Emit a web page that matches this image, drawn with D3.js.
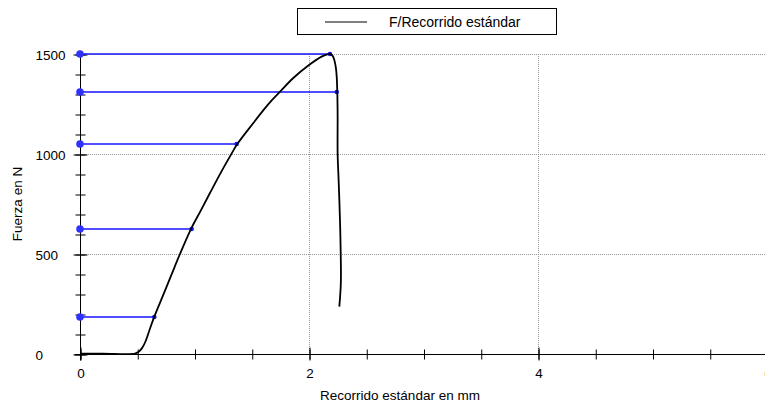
<!DOCTYPE html>
<html>
<head>
<meta charset="utf-8">
<script src="https://cdn.jsdelivr.net/npm/d3@7"></script>
<style>
  html, body { margin: 0; padding: 0; background: #fff; }
  svg { display: block; font-family: "Liberation Sans", Arial, sans-serif; }
</style>
</head>
<body>
<svg id="chart" width="765" height="407"></svg>
<script>
// ---- data ----
const xTickValues = [0, 2, 4, 6];
const xMinorTicks = [0, 0.5, 1, 1.5, 2, 2.5, 3, 3.5, 4, 4.5, 5, 5.5, 6];
const yTickValues = [0, 500, 1000, 1500];
const yMinorTicks = [0, 100, 200, 300, 400, 500, 600, 700, 800, 900, 1000, 1100, 1200, 1300, 1400, 1500];

const curveX = [0, 0.2, 0.48, 0.51, 0.54, 0.57, 0.61, 0.649, 0.728, 0.8, 0.873, 0.975, 1.05, 1.135, 1.23, 1.325, 1.368, 1.514, 1.6, 1.674, 1.747, 1.863, 2.0, 2.11, 2.16, 2.183, 2.205, 2.221, 2.235, 2.242, 2.247, 2.25, 2.25, 2.258, 2.265, 2.272, 2.277, 2.279, 2.277, 2.265];
const curveF = [2, 2, 2, 10, 28, 60, 125, 187, 297, 398, 500, 632, 712, 805, 907, 1003, 1045, 1155, 1218, 1268, 1312, 1380, 1445, 1487, 1498, 1500, 1492, 1470, 1430, 1387, 1312, 1200, 1003, 880, 770, 640, 503, 400, 337, 237];

const markerF = [1500, 1310, 1050, 625, 185];
const markerX = [2.183, 2.242, 1.368, 0.975, 0.649];

const seriesName = "F/Recorrido estándar";
const xTitle = "Recorrido estándar en mm";
const yTitle = "Fuerza en N";

// ---- layout ----
const svg = d3.select("#chart");
const x = d3.scaleLinear().domain([0, 6]).range([80, 767]);
const y = d3.scaleLinear().domain([0, 1500]).range([354, 54]);

// grid
const grid = svg.append("g").attr("stroke", "#9a9a9a").attr("stroke-width", 1).attr("stroke-dasharray", "1,1");
grid.selectAll("line.h").data(yTickValues.filter(d => d > 0)).enter().append("line")
  .attr("x1", x(0)).attr("x2", 765)
  .attr("y1", d => Math.round(y(d)) + 0.5).attr("y2", d => Math.round(y(d)) + 0.5);
grid.selectAll("line.v").data(xTickValues.filter(d => d > 0 && d < 6)).enter().append("line")
  .attr("y1", y(1500)).attr("y2", y(0))
  .attr("x1", d => Math.round(x(d)) + 0.5).attr("x2", d => Math.round(x(d)) + 0.5);

// x axis
const xAxisG = svg.append("g").attr("transform", `translate(0.5,${y(0) + 0.5})`);
xAxisG.call(d3.axisBottom(x).tickValues(xMinorTicks).tickSize(0).tickFormat(""));
xAxisG.select(".domain").attr("d", `M${x(0) - 6},0H765`).attr("stroke", "#000");
xAxisG.selectAll(".tick line").attr("y1", -5).attr("y2", 5).attr("stroke", "#000");
const xMajor = svg.append("g").attr("transform", `translate(0.5,${y(0) + 0.5})`);
xMajor.call(d3.axisBottom(x).tickValues(xTickValues).tickSize(0).tickFormat(d3.format("d")));
xMajor.select(".domain").remove();
xMajor.selectAll(".tick line").attr("y1", -7).attr("y2", 6).attr("stroke", "#000");
xMajor.selectAll(".tick text").attr("y", 23).attr("dy", 0).attr("font-size", 13.5).attr("fill", "#000")
  .attr("font-family", "Liberation Sans, Arial, sans-serif");

// y axis
const yAxisG = svg.append("g").attr("transform", `translate(${x(0) + 0.5},0.5)`);
yAxisG.call(d3.axisLeft(y).tickValues(yMinorTicks).tickSize(0).tickFormat(""));
yAxisG.select(".domain").attr("d", `M0,${y(1500)}V${y(0) + 6}`).attr("stroke", "#000");
yAxisG.selectAll(".tick line").attr("x1", -5).attr("x2", 5).attr("stroke", "#000");
const yMajor = svg.append("g").attr("transform", `translate(${x(0) + 0.5},0.5)`);
yMajor.call(d3.axisLeft(y).tickValues(yTickValues).tickSize(0).tickFormat(d3.format("d")));
yMajor.select(".domain").remove();
yMajor.selectAll(".tick line").attr("x1", -7).attr("x2", 7).attr("stroke", "#000");
yMajor.selectAll(".tick text").attr("x", -45).attr("dy", "0.36em").attr("text-anchor", "start")
  .attr("font-size", 13.5).attr("fill", "#000").attr("font-family", "Liberation Sans, Arial, sans-serif");

// titles
svg.append("text").attr("x", 400).attr("y", 400).attr("text-anchor", "middle")
  .attr("font-size", 13.5).text(xTitle);
svg.append("text").attr("transform", `translate(22,204) rotate(-90)`).attr("text-anchor", "middle")
  .attr("font-size", 13.5).text(yTitle);

// marker lines
const markers = markerF.map((f, i) => ({ f, x: markerX[i] }));
const mk = svg.append("g");
mk.selectAll("line").data(markers).enter().append("line")
  .attr("x1", x(0)).attr("x2", d => x(d.x))
  .attr("y1", d => y(d.f)).attr("y2", d => y(d.f))
  .attr("stroke", "#1414ff").attr("stroke-width", 1.3);

// curve
const line = d3.line().x(d => x(d[0])).y(d => y(d[1])).curve(d3.curveCatmullRom.alpha(0.5));
svg.append("path").datum(curveX.map((v, i) => [v, curveF[i]]))
  .attr("d", line).attr("fill", "none").attr("stroke", "#000").attr("stroke-width", 1.8)
  .attr("stroke-linejoin", "round");

// marker dots
mk.selectAll("circle.start").data(markers).enter().append("circle")
  .attr("cx", x(0)).attr("cy", d => y(d.f)).attr("r", 3.8).attr("fill", "#3030ff");
mk.selectAll("circle.end").data(markers).enter().append("circle")
  .attr("cx", d => x(d.x)).attr("cy", d => y(d.f)).attr("r", 2.3).attr("fill", "#1414ff");

// legend
const lg = svg.append("g");
lg.append("rect").attr("x", 297.5).attr("y", 8.5).attr("width", 259).attr("height", 26)
  .attr("fill", "#fff").attr("stroke", "#000").attr("stroke-width", 1);
lg.append("line").attr("x1", 325).attr("x2", 367).attr("y1", 22).attr("y2", 22)
  .attr("stroke", "#000").attr("stroke-width", 1.2);
lg.append("text").attr("x", 389).attr("y", 26.5).attr("font-size", 14).text(seriesName);
</script>
</body>
</html>
